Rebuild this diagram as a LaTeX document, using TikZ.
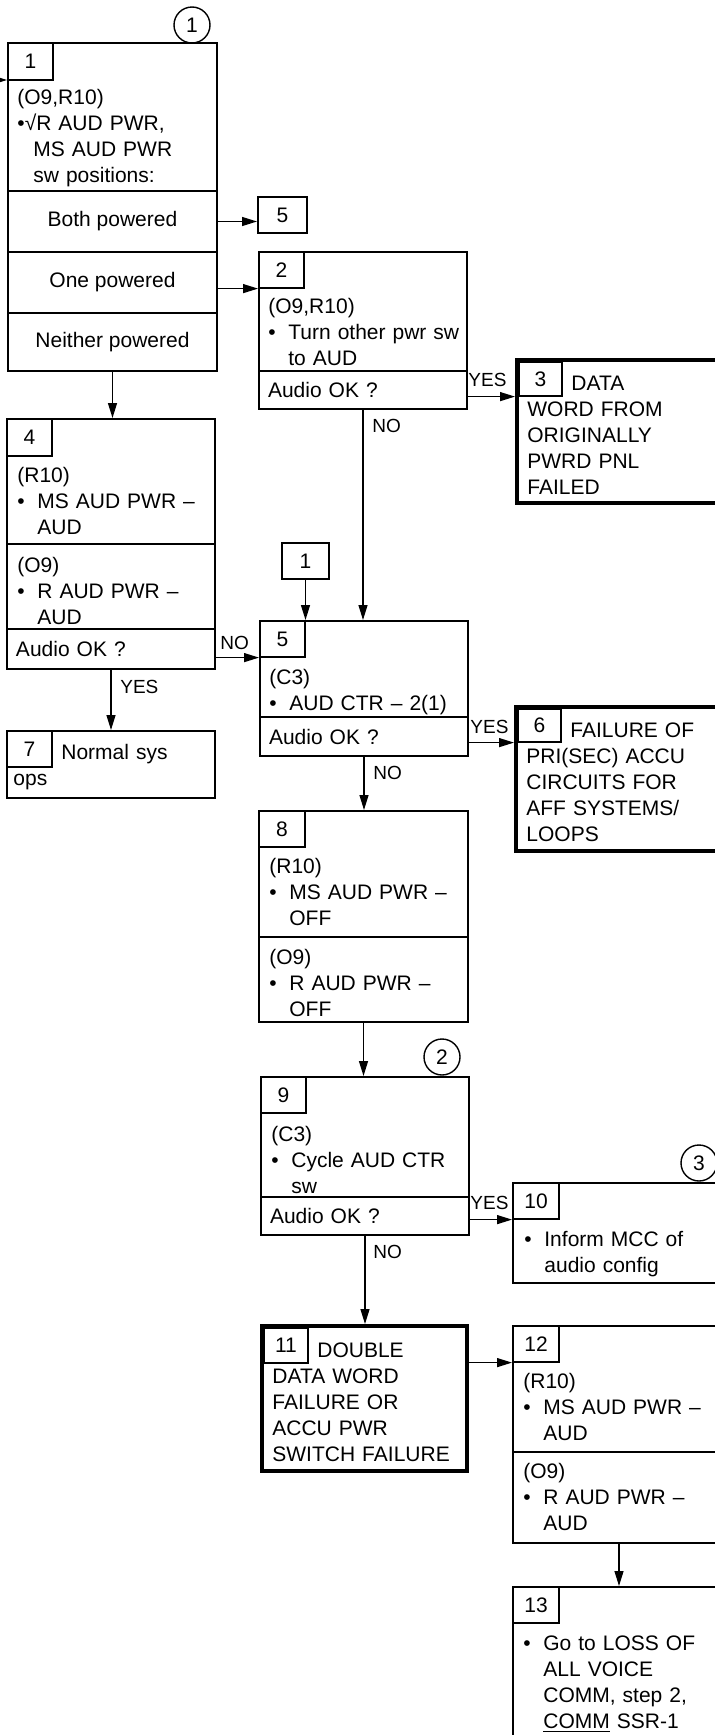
\documentclass[tikz,border=0pt]{standalone}
\usepackage{fontspec}
\setmainfont{Liberation Sans}
\usetikzlibrary{arrows.meta,fit}
\newcommand\pbul{\makebox[10pt][l]{\textbullet}}
\newcommand\pind{\hspace*{10pt}}

\begin{document}
\begin{tikzpicture}
  [x=0.5pt,y=-0.5pt,>={Triangle[length=7.5pt,width=4.5pt]},
   every node/.style={font=\fontsize{10.5}{13}\selectfont},
   box/.style={draw,line width=1pt,inner sep=0pt},
   heavy/.style={draw,line width=2pt,inner sep=0pt},
   tab/.style={draw,line width=0.6pt,inner sep=0pt,minimum width=22.5pt,minimum height=18pt},
   ask/.style={box,inner xsep=4.5pt,text width=95pt,align=left,minimum height=19.5pt},
   txt/.style={anchor=north west,inner sep=0pt,text width=100pt,align=left,execute at begin node=\strut},
   lbl/.style={anchor=base west,inner sep=0pt,font=\fontsize{9.5}{11}\selectfont},
   ref/.style={circle,draw,line width=0.7pt,minimum size=18pt,inner sep=0pt},
   conn/.style={->,line width=0.65pt}]
  \useasboundingbox (0,0) rectangle (715,1735);
  \clip (0,0) rectangle (715,1735);

  % marker circles
  \node[ref] (c1) at (192,25) {1};
  \node[ref] (c2) at (442,1057) {2};
  \node[ref] (c3) at (699,1163) {3};

  % step 1
  \node[box,fit={(8,43) (217,191)}] (b1) {};
  \node[box,minimum width=104.5pt,minimum height=30.5pt] (r1a) at (112.5,221.5) {Both powered};
  \node[box,minimum width=104.5pt,minimum height=30.5pt] (r1b) at (112.5,282.5) {One powered};
  \node[box,minimum width=104.5pt,minimum height=29pt] (r1c) at (112.5,342) {Neither powered};
  \node[tab,minimum height=18.5pt] (t1) at (30.5,61.5) {1};
  \node[txt] (x1) at (17,86) {(O9,R10)\\\textbullet√R AUD PWR,\\\hspace*{8pt}MS AUD PWR\\\hspace*{8pt}sw positions:};
  \coordinate (in1) at (-10,80);
  \node[box,minimum width=24.5pt,minimum height=18pt] (s5) at (282.5,215) {5};

  % step 2
  \node[box,fit={(259,252) (467,371)}] (b2) {};
  \node[ask,minimum height=19pt] (q2) at (363,390) {Audio OK ?};
  \node[tab] (t2) at (281.5,270) {2};
  \node[txt] (x2) at (268,295) {(O9,R10)\\\pbul Turn other pwr sw\\\pind to AUD};

  % step 3
  \node[heavy,fit={(517,360) (723,503)}] (b3) {};
  \node[tab,minimum width=21.5pt,minimum height=17pt] (t3) at (540.5,379) {3};
  \node[txt] (x3) at (527,372) {\hspace*{22pt}DATA\\WORD FROM\\ORIGINALLY\\PWRD PNL\\FAILED};

  % step 4
  \node[box,fit={(7,419) (215,544)}] (b4) {};
  \node[box,fit={(7,544) (215,629)}] (b4b) {};
  \node[ask,minimum height=20pt] (q4) at (111,649) {Audio OK ?};
  \node[tab,minimum height=18.5pt] (t4) at (29.5,437.5) {4};
  \node[txt] (x4) at (17,464) {(R10)\\\pbul MS AUD PWR --\\\pind AUD};
  \node[txt] (x4b) at (17,554) {(O9)\\\pbul R AUD PWR --\\\pind AUD};

  % step 7
  \node[box,fit={(7,731) (215,798)}] (b7) {};
  \node[tab] (t7) at (29.5,749) {7};
  \node[txt] (x7) at (13,741) {\hspace*{24pt}Normal sys\\ops};

  % step 5
  \node[box,minimum width=23.5pt,minimum height=18pt] (s1) at (305.5,561) {1};
  \node[box,fit={(260,621) (468,717)}] (b5) {};
  \node[ask] (q5) at (364,736.5) {Audio OK ?};
  \node[tab] (t5) at (282.5,639) {5};
  \node[txt] (x5) at (269,666) {(C3)\\\pbul AUD CTR -- 2(1)};

  % step 6
  \node[heavy,fit={(516,707) (723,851)}] (b6) {};
  \node[tab,minimum width=21.5pt,minimum height=16.5pt] (t6) at (539.5,725.5) {6};
  \node[txt] (x6) at (526,719) {\hspace*{22pt}FAILURE OF\\PRI(SEC) ACCU\\CIRCUITS FOR\\AFF SYSTEMS/\\LOOPS};

  % step 8
  \node[box,fit={(259,811) (468,937)}] (b8) {};
  \node[box,fit={(259,937) (468,1022)}] (b8b) {};
  \node[tab,minimum width=23pt] (t8) at (282,829) {8};
  \node[txt] (x8) at (269,855) {(R10)\\\pbul MS AUD PWR --\\\pind OFF};
  \node[txt] (x8b) at (269,946) {(O9)\\\pbul R AUD PWR --\\\pind OFF};

  % step 9
  \node[box,fit={(261,1077) (469,1197)}] (b9) {};
  \node[ask,minimum height=19pt] (q9) at (365,1216) {Audio OK ?};
  \node[tab] (t9) at (283.5,1095) {9};
  \node[txt] (x9) at (271,1123) {(C3)\\\pbul Cycle AUD CTR\\\pind sw};

  % step 10
  \node[box,fit={(513,1183) (725,1283)}] (b10) {};
  \node[tab,minimum width=23pt] (t10) at (536,1201) {10};
  \node[txt] (x10) at (524,1228) {\pbul Inform MCC of\\\pind audio config};

  % step 11
  \node[heavy,fit={(262,1326) (467,1471)}] (b11) {};
  \node[tab,minimum width=22pt,minimum height=17.5pt] (t11) at (286,1345.5) {11};
  \node[txt] (x11) at (272,1339) {\hspace*{22.5pt}DOUBLE\\DATA WORD\\FAILURE OR\\ACCU PWR\\SWITCH FAILURE};

  % step 12
  \node[box,fit={(513,1326) (725,1452)}] (b12) {};
  \node[box,fit={(513,1452) (725,1543)}] (b12b) {};
  \node[tab,minimum width=23pt] (t12) at (536,1344) {12};
  \node[txt] (x12) at (523,1370) {(R10)\\\pbul MS AUD PWR --\\\pind AUD};
  \node[txt] (x12b) at (523,1460) {(O9)\\\pbul R AUD PWR --\\\pind AUD};

  % step 13
  \node[box,fit={(513,1587) (725,1790)}] (b13) {};
  \node[tab,minimum width=23pt] (t13) at (536,1605) {13};
  \node[txt] (x13) at (523,1632) {\pbul Go to LOSS OF\\\pind ALL VOICE\\\pind COMM, step 2,\\\pind\underline{COMM} SSR-1};

  % yes / no labels
  \node[lbl] (y2) at (468,386) {YES};
  \node[lbl] (n2) at (372,432) {NO};
  \node[lbl] (n4) at (220,649) {NO};
  \node[lbl] (y4) at (120,693) {YES};
  \node[lbl] (y5) at (470,733) {YES};
  \node[lbl] (n5) at (373,779) {NO};
  \node[lbl] (y9) at (470,1209) {YES};
  \node[lbl] (n9) at (373,1258) {NO};

  \draw[conn] (in1) -- (in1 -| b1.west);
  \draw[conn] (r1a.east) -- (r1a.east -| s5.west);
  \foreach \from/\via/\to in {r1b/t2/b2, q2/t3/b3, q4/t5/b5, q5/t6/b6, q9/t10/b10, b11/t12/b12}
    \draw[conn] (\from.east |- \via.south) -- (\to.west |- \via.south);
  \foreach \from/\to in {r1c/b4, q2/b5, q4/b7, s1/b5, q5/b8, b8b/b9, q9/b11, b12b/b13}
    \draw[conn] (\from.south) -- (\from.south |- \to.north);

\end{tikzpicture}
\end{document}
